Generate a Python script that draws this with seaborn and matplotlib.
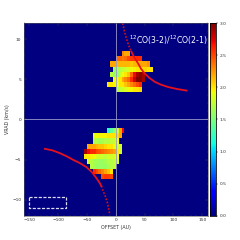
import matplotlib
matplotlib.use('Agg')
import numpy as np
import matplotlib.pyplot as plt
import seaborn as sns

# velocity channels are 0.64 km/s wide, heatmap grid is 5 AU x 0.64 km/s
x_edges = np.arange(-160, 165, 5)
v_edges = np.arange(-12.6, 12.4, 0.64)

# each row: top edge velocity, first offset (AU), ratio per 5 AU cell
rows_upper = [
    (8.5, 10, [2.3, 2.2, 2.2]),
    (7.86, 0, [2.4, 2.4, 2.35, 2.4, 2.5, 2.55, 2.55, 2.6, 2.6]),
    (7.22, -10, [2.2, 2.2, 2.15, 2.15, 2.15, 2.15, 2.15, 2.1, 2.15, 2.15, 2.2, 2.2, 2.2, 2.25]),
    (6.58, -5, [1.6, 1.65, 1.7, 1.75, 1.8, 1.85, 1.9, 1.95, 2.0, 2.0, 2.05, 2.05, 2.0, 2.0]),
    (5.94, -10, [1.7, 1.6, 1.6, 1.8, 1.9, 2.0, 2.1, 2.4, 2.7, 2.9, 3.0, 2.9]),
    (5.30, -5, [1.9, 1.95, 2.0, 2.2, 2.3, 2.4, 2.6, 2.8, 3.0, 3.0, 2.9]),
    (4.66, -15, [2.0, 2.0, 1.95, 1.9, 2.0, 2.0, 2.1, 2.2, 2.3, 2.4, 2.5, 2.6]),
    (4.02, 0, [1.7, 1.75, 1.8, 1.85, 1.9, 1.95, 2.0, 2.0, 2.05]),
]
rows_lower = [
    (-1.08, -15, [1.2, 1.4, 1.6, 1.8, 2.2, 2.7]),
    (-1.72, -40, [1.9, 1.9, 1.95, 1.95, 1.95, 2.0, 2.0, 2.0, 2.05, 2.2]),
    (-2.36, -40, [1.7, 1.7, 1.65, 1.65, 1.7, 1.7, 1.75, 1.8, 1.9]),
    (-3.0, -50, [2.2, 2.2, 2.2, 2.15, 2.1, 2.1, 2.05, 2.0, 2.0, 1.9, 1.8, 1.8]),
    (-3.64, -55, [2.9, 2.7, 2.6, 2.6, 2.5, 2.45, 2.4, 2.35, 2.3, 2.25, 2.2, 2.0, 1.8]),
    (-4.28, -55, [2.0, 2.0, 1.95, 1.9, 1.85, 1.8, 1.8, 1.75, 1.8, 1.8, 1.85, 1.9]),
    (-4.92, -50, [1.8, 1.7, 1.65, 1.65, 1.6, 1.6, 1.65, 1.7, 1.7, 1.75, 1.8]),
    (-5.56, -45, [1.7, 1.65, 1.6, 1.6, 1.6, 1.6, 1.65, 1.7, 1.75]),
    (-6.2, -40, [2.6, 2.5, 2.4, 2.3, 2.2, 2.1, 2.0]),
    (-6.84, -25, [2.5, 2.55, 2.55, 2.5]),
]

# red rotation curves (solid part, then dotted steep part)
curve_up_x = [27, 32, 38.6, 44, 50, 58, 67.5, 78, 90.5, 106, 123]
curve_up_v = [8.46, 7.75, 7.0, 6.3, 5.75, 5.2, 4.7, 4.35, 4.05, 3.8, 3.6]
steep_up_x = [12, 15, 18.5, 22, 27]
steep_up_v = [12.0, 11.0, 10.1, 9.3, 8.46]
curve_low_x = [-122.8, -110, -97, -85, -73.8, -62, -50.7, -41, -33.4, -28, -25]
curve_low_v = [-3.66, -3.85, -4.2, -4.6, -5.04, -5.45, -5.95, -6.6, -7.33, -7.9, -8.3]
steep_low_x = [-25, -22, -18, -15, -12.5, -10.4]
steep_low_v = [-8.3, -8.9, -9.6, -10.25, -11.0, -11.9]

box_x = [-150, -86, -86, -150, -150]
box_v = [-9.7, -9.7, -11.1, -11.1, -9.7]

x_ticks = [-150, -100, -50, 0, 50, 100, 150]
v_ticks = [-10, -5, 0, 5, 10]
cbar_ticks = [0.0, 0.5, 1.0, 1.5, 2.0, 2.5, 3.0]

# build the ratio map, row 0 at the bottom
grid = np.zeros((len(v_edges) - 1, len(x_edges) - 1))
for top_v, start, vals in rows_upper + rows_lower:
    i = int(round((top_v - v_edges[0]) / 0.64)) - 1
    j = int(round((start - x_edges[0]) / 5))
    grid[i, j:j + len(vals)] = vals

fig = plt.figure(figsize=(2.4, 2.4), dpi=100)
ax = fig.add_axes([23.5 / 240, 24.3 / 240, 184.5 / 240, 192.5 / 240])
cax = fig.add_axes([209.5 / 240, 24.3 / 240, 6.5 / 240, 192.5 / 240])

sns.heatmap(grid, ax=ax, cbar_ax=cax, cmap='jet', vmin=0, vmax=3,
            xticklabels=False, yticklabels=False, rasterized=True)
ax.set_xlim(0, grid.shape[1])
ax.set_ylim((-12 - v_edges[0]) / 0.64, (12 - v_edges[0]) / 0.64)

# second axes on top so ticks and curves use AU and km/s
top = fig.add_axes(ax.get_position(), facecolor='none')
top.set_xlim(-160, 160)
top.set_ylim(-12, 12)
top.axvline(0, color='#9a9ac8', lw=0.6)
top.axhline(0, color='#9a9ac8', lw=0.6)
sns.lineplot(x=curve_up_x, y=curve_up_v, ax=top, color='#e8101c', lw=1.3, sort=False, estimator=None)
sns.lineplot(x=curve_low_x, y=curve_low_v, ax=top, color='#e8101c', lw=1.3, sort=False, estimator=None)
sns.lineplot(x=steep_up_x, y=steep_up_v, ax=top, color='#d0101c', lw=1.2, ls=(0, (1, 1)), sort=False, estimator=None)
sns.lineplot(x=steep_low_x, y=steep_low_v, ax=top, color='#d0101c', lw=1.2, ls=(0, (1, 1)), sort=False, estimator=None)
top.plot(box_x, box_v, color='#dcdcf0', lw=0.9, ls=(0, (2.5, 1.2)))
top.text(22.5, 9.9, r'$^{12}$CO(3-2)/$^{12}$CO(2-1)', color='white', fontsize=5.6, va='center')

top.set_xticks(x_ticks)
top.set_yticks(v_ticks)
top.set_xticks(np.arange(-150, 151, 10), minor=True)
top.set_yticks(np.arange(-12, 12.5, 1), minor=True)
top.tick_params(which='both', direction='in', top=True, right=True, width=0.3, color='#444444',
                labelsize=3.2, pad=1.5, labelcolor='#333333')
top.tick_params(which='major', length=2)
top.tick_params(which='minor', length=1)
top.set_xlabel('OFFSET (AU)', fontsize=3.4, labelpad=2.5, color='#333333')
top.set_ylabel('VRAD (km/s)', fontsize=3.4, labelpad=1.5, color='#333333')
for s in top.spines.values():
    s.set_linewidth(0.4)
    s.set_color('#555555')

cax.set_yticks(cbar_ticks)
cax.set_yticklabels(['%.1f' % t for t in cbar_ticks])
cax.tick_params(labelsize=3.2, length=1.5, width=0.3, pad=1, labelcolor='#333333')
for s in cax.spines.values():
    s.set_visible(True)
    s.set_linewidth(0.4)

fig.savefig('out.png', dpi=100)
